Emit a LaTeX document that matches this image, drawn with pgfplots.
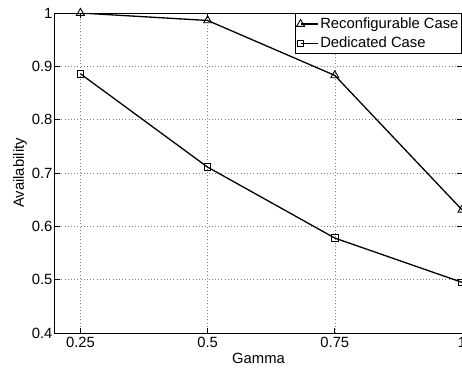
\documentclass[border=0pt]{standalone}
\usepackage{fontspec}
\setmainfont{Liberation Sans}
\usepackage{pgfplots}
\pgfplotsset{compat=1.18}
\begin{document}
\begin{tikzpicture}
\begin{axis}[
  scale only axis, width=407pt, height=320pt,
  xmin=0.2, xmax=1, ymin=0.4, ymax=1,
  xtick={0.25,0.5,0.75,1}, xticklabels={0.25,0.5,0.75,1},
  ytick={0.4,0.5,0.6,0.7,0.8,0.9,1}, yticklabels={0.4,0.5,0.6,0.7,0.8,0.9,1},
  tick align=inside, major tick length=5pt,
  every tick/.style={black, line width=0.7pt},
  axis line style={line width=1pt},
  grid=major,
  major grid style={gray, line width=0.6pt, dash pattern=on 0.8pt off 2.4pt},
  tick label style={font=\fontsize{14.8pt}{17pt}\selectfont},
  label style={font=\fontsize{14.8pt}{17pt}\selectfont},
  xticklabel style={yshift=-1pt},
  yticklabel style={xshift=1pt},
  xlabel={Gamma}, ylabel={Availability},
  xlabel style={yshift=2pt},
  ylabel style={yshift=-2pt},
  legend style={at={(1,1)}, anchor=north east, draw=black, line width=1pt, fill=white,
    font=\fontsize{14.8pt}{17pt}\selectfont, inner xsep=1pt, inner ysep=2.5pt, row sep=3pt,
    legend cell align=left},
  legend image code/.code={\draw[mark repeat=2,mark phase=1,#1] plot coordinates {(0cm,0cm)(0.6cm,0cm)};},
]
\coordinate (bl) at (rel axis cs:0,0);
\addplot[black, line width=1.3pt, mark=triangle, mark size=4.6pt, mark options={solid, line width=0.9pt}]
  coordinates {(0.25,1.0) (0.5,0.986) (0.75,0.883) (1,0.631)};
\addlegendentry{Reconfigurable Case}
\addplot[black, line width=1.3pt, mark=square, mark size=3.2pt, mark options={solid, line width=0.9pt}]
  coordinates {(0.25,0.886) (0.5,0.711) (0.75,0.578) (1,0.495)};
\addlegendentry{Dedicated Case}
\end{axis}
\pgfresetboundingbox
\useasboundingbox ([shift={(-55pt,-35pt)}]bl) rectangle ++(462pt,368pt);
\end{tikzpicture}
\end{document}
